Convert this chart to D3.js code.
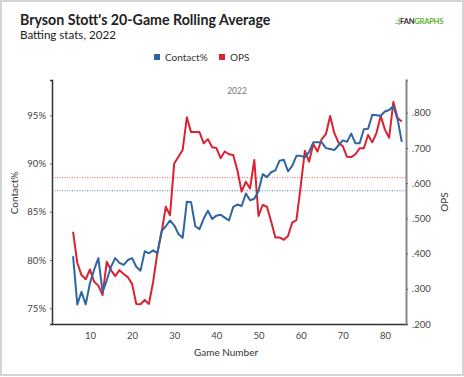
<!DOCTYPE html>
<html>
<head>
<meta charset="utf-8">
<script src="https://cdn.jsdelivr.net/npm/d3@7"></script>
<style>
  body { margin: 0; background: #fff; }
  svg { display: block; font-family: Lato, "Open Sans", sans-serif; }
</style>
</head>
<body>
<svg id="viz"></svg>
<script>
// data
const games = [6, 7, 8, 9, 10, 11, 12, 13, 14, 15, 16, 17, 18, 19, 20, 21, 22, 23, 24, 25,
  26, 27, 28, 29, 30, 31, 32, 33, 34, 35, 36, 37, 38, 39, 40, 41, 42, 43, 44, 45,
  46, 47, 48, 49, 50, 51, 52, 53, 54, 55, 56, 57, 58, 59, 60, 61, 62, 63, 64, 65,
  66, 67, 68, 69, 70, 71, 72, 73, 74, 75, 76, 77, 78, 79, 80, 81, 82, 83, 84];

const contact = [80.4, 75.4, 76.7, 75.4, 77.6, 79.0, 80.2, 76.7, 77.9, 79.3,
  80.2, 79.7, 79.5, 80.0, 80.2, 79.3, 78.9, 80.9, 80.7, 81.0,
  80.7, 83.0, 83.5, 84.1, 83.6, 82.7, 82.3, 86.05, 86.0, 83.5,
  83.2, 84.3, 85.1, 84.25, 84.6, 84.7, 84.4, 84.1, 85.5, 85.75,
  85.6, 86.9, 86.2, 86.35, 87.15, 88.9, 88.6, 89.1, 89.3, 90.3,
  90.4, 89.2, 89.75, 90.8, 90.8, 90.65, 91.2, 92.2, 92.2, 92.2,
  91.6, 91.5, 91.4, 91.9, 92.4, 92.25, 93.1, 92.1, 92.1, 93.55,
  93.6, 95.05, 95.0, 94.95, 95.4, 95.55, 95.95, 94.6, 92.25];

const ops = [.462, .374, .339, .327, .355, .320, .309, .282, .377, .353,
  .336, .353, .342, .333, .314, .257, .256, .268, .257, .320,
  .402, .460, .533, .509, .656, .675, .694, .787, .745, .745,
  .745, .713, .725, .702, .700, .671, .690, .682, .680, .636,
  .576, .604, .585, .666, .507, .538, .533, .491, .446, .446,
  .439, .450, .488, .495, .590, .692, .661, .711, .690, .725,
  .739, .791, .742, .715, .705, .675, .674, .682, .699, .699,
  .737, .716, .743, .791, .752, .729, .831, .785, .775];

const contactAvg = 87.18;
const opsAvg = 0.6156;

const xTicks = [10, 20, 30, 40, 50, 60, 70, 80];
const contactTicks = [75, 80, 85, 90, 95];
const opsTicks = [0.2, 0.3, 0.4, 0.5, 0.6, 0.7, 0.8];

const blue = "#2f65a3", red = "#d92232";

const width = 464, height = 377;
const svg = d3.select("#viz").attr("width", width).attr("height", height);

// outer frame
svg.append("rect")
   .attr("x", 1).attr("y", 1).attr("width", width - 2).attr("height", height - 3)
   .attr("fill", "#fff").attr("stroke", "#d4d4d4").attr("stroke-width", 2);

const plotLeft = 52, plotRight = 406, plotTop = 80, plotBottom = 324;

const x = d3.scaleLinear().domain([1, 85]).range([plotLeft, plotRight]);
const yL = d3.scaleLinear().domain([73.37, 98.66]).range([plotBottom, plotTop]);
const yR = d3.scaleLinear().domain([0.2, 0.893]).range([plotBottom, plotTop]);

// titles
svg.append("text").attr("x", 20).attr("y", 24.5)
   .attr("font-size", 14.2).attr("font-weight", "bold").attr("fill", "#222")
   .text("Bryson Stott's 20-Game Rolling Average");
svg.append("text").attr("x", 20).attr("y", 38.5)
   .attr("font-size", 11.6).attr("fill", "#222")
   .text("Batting stats, 2022");

// fangraphs mark
const logo = svg.append("text").attr("x", 395).attr("y", 24)
   .attr("font-size", 7.5).attr("font-weight", "bold").attr("letter-spacing", -0.2);
logo.append("tspan").attr("fill", "#4c9a2a").text(".:|");
logo.append("tspan").attr("fill", "#2b2b2b").text("FAN");
logo.append("tspan").attr("fill", "#55b22b").text("GRAPHS");

// legend
const legend = [{name: "Contact%", color: blue, x: 154}, {name: "OPS", color: red, x: 219}];
legend.forEach(d => {
  svg.append("rect").attr("x", d.x).attr("y", 54).attr("width", 6).attr("height", 6).attr("fill", d.color);
  svg.append("text").attr("x", d.x + 11).attr("y", 61)
     .attr("font-size", 10).attr("fill", "#333").text(d.name);
});

svg.append("text").attr("x", 237).attr("y", 94).attr("text-anchor", "middle")
   .attr("font-size", 8.5).attr("fill", "#777").text("2022");

// average reference lines
svg.append("line").attr("x1", plotLeft).attr("x2", plotRight)
   .attr("y1", yR(opsAvg)).attr("y2", yR(opsAvg))
   .attr("stroke", "#e0606c").attr("stroke-width", 1).attr("stroke-dasharray", "1,1.5");
svg.append("line").attr("x1", plotLeft).attr("x2", plotRight)
   .attr("y1", yL(contactAvg)).attr("y2", yL(contactAvg))
   .attr("stroke", "#5a82b8").attr("stroke-width", 1).attr("stroke-dasharray", "1,1.5");

// lines
const contactLine = d3.line().x((d, i) => x(games[i])).y(d => yL(d));
const opsLine = d3.line().x((d, i) => x(games[i])).y(d => yR(d));

svg.append("path").datum(ops).attr("d", opsLine)
   .attr("fill", "none").attr("stroke", red).attr("stroke-width", 2).attr("stroke-linejoin", "round");
svg.append("path").datum(contact).attr("d", contactLine)
   .attr("fill", "none").attr("stroke", blue).attr("stroke-width", 2).attr("stroke-linejoin", "round");

// axes
const xAxis = svg.append("g").attr("transform", `translate(0,${plotBottom})`)
   .call(d3.axisBottom(x).tickValues(xTicks).tickSize(0).tickPadding(8));
const lAxis = svg.append("g").attr("transform", `translate(${plotLeft},0)`)
   .call(d3.axisLeft(yL).tickValues(contactTicks).tickSize(2).tickPadding(4).tickFormat(d => d + "%"));
const rAxis = svg.append("g").attr("transform", `translate(${plotRight},0)`)
   .call(d3.axisRight(yR).tickValues(opsTicks).tickSize(2).tickPadding(4)
     .tickFormat(d => d3.format(".3f")(d).replace(/^0/, "")));

[xAxis, lAxis, rAxis].forEach(a => {
  a.selectAll("text").attr("font-family", "Lato, sans-serif").attr("font-size", 9.5).attr("fill", "#444");
  a.selectAll(".tick line").attr("stroke", "#666");
});
xAxis.select(".domain").attr("stroke", "#333").attr("stroke-width", 1.5);
lAxis.select(".domain").attr("stroke", "#333").attr("stroke-width", 1.5);
rAxis.select(".domain").attr("stroke", "#888").attr("stroke-width", 2);

// axis titles
svg.append("text").attr("x", 226).attr("y", 356).attr("text-anchor", "middle")
   .attr("font-size", 10).attr("fill", "#333").text("Game Number");
svg.append("text").attr("transform", "translate(18,193) rotate(-90)").attr("text-anchor", "middle")
   .attr("font-size", 10).attr("fill", "#333").text("Contact%");
svg.append("text").attr("transform", "translate(448,202) rotate(-90)").attr("text-anchor", "middle")
   .attr("font-size", 10).attr("fill", "#333").text("OPS");
</script>
</body>
</html>
